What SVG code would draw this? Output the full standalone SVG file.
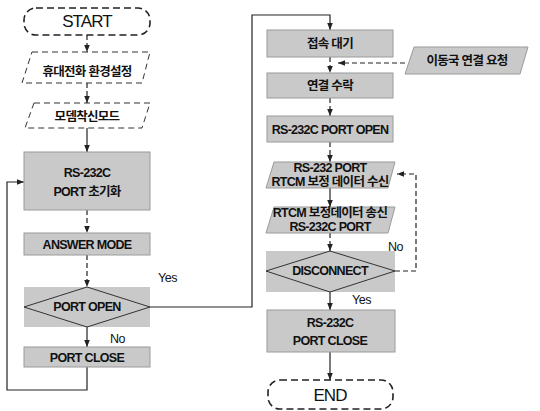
<svg xmlns="http://www.w3.org/2000/svg" width="540" height="411" viewBox="0 0 540 411">
<style>
.t{font-family:"Liberation Sans","Noto Sans CJK KR",sans-serif;font-size:12.5px;font-weight:bold;fill:#111;text-anchor:middle;letter-spacing:-0.7px}
.big{font-size:17px;font-weight:normal;letter-spacing:-0.9px}
.lab{font-family:"Liberation Sans",sans-serif;font-size:12.5px;fill:#111;letter-spacing:-0.5px}
.sh{fill:#c9c9c9;stroke:#9a9a9a;stroke-width:1}
.shn{fill:#c9c9c9;stroke:none}
.dia{fill:none;stroke:#333;stroke-width:1}
.term{fill:#fff;stroke:#222;stroke-width:1.6;stroke-dasharray:7 4}
.io{fill:#fff;stroke:#333;stroke-width:1;stroke-dasharray:6 4}
.c{fill:none;stroke:#222;stroke-width:1.2}
.cd{fill:none;stroke:#222;stroke-width:1.2;stroke-dasharray:5 3}
</style>
<defs>
<marker id="a" viewBox="0 0 10 10" refX="10" refY="5" markerWidth="7" markerHeight="7" orient="auto-start-reverse" markerUnits="userSpaceOnUse">
<path d="M0,1 L10,5 L0,9 Z" fill="#222"/>
</marker>
</defs>
<g id="connectors">
<path class="cd" d="M87,35 V52" marker-end="url(#a)"/>
<path class="cd" d="M87,83 V103" marker-end="url(#a)"/>
<path class="c" d="M87,128 V152" marker-end="url(#a)"/>
<path class="cd" d="M87,210 V233" marker-end="url(#a)"/>
<path class="cd" d="M87,255 V287" marker-end="url(#a)"/>
<path class="c" d="M87,327 V347" marker-end="url(#a)"/>
<path class="c" d="M87,367 V390 H7 V182 H24" marker-end="url(#a)"/>
<path class="c" d="M150,307 H252 V15 H330 V30" marker-end="url(#a)"/>
<path class="cd" d="M330,57 V73" marker-end="url(#a)"/>
<path class="cd" d="M405,63 H338" marker-end="url(#a)"/>
<path class="cd" d="M330,98 V116" marker-end="url(#a)"/>
<path class="cd" d="M330,142 V162" marker-end="url(#a)"/>
<path class="c" d="M330,188 V207" marker-end="url(#a)"/>
<path class="cd" d="M330,233 V251" marker-end="url(#a)"/>
<path class="cd" d="M395,271 H416 V174 H397" marker-end="url(#a)"/>
<path class="c" d="M330,292 V310" marker-end="url(#a)"/>
<path class="c" d="M330,352 V380" marker-end="url(#a)"/>
</g>
<g id="start">
<rect class="term" x="24" y="8" width="126" height="27" rx="12"/>
<text class="t big" x="87" y="27">START</text>
</g>
<g id="env">
<polygon class="io" points="32,52 150,52 142,83 22,83"/>
<text class="t" x="87" y="76">휴대전화 환경설정</text>
</g>
<g id="modem">
<polygon class="io" points="34,103 150,103 142,128 25,128"/>
<text class="t" x="87" y="121">모뎀착신모드</text>
</g>
<g id="init">
<rect class="sh" x="24" y="152" width="126" height="58"/>
<text class="t" x="87" y="177">RS-232C</text>
<text class="t" x="87" y="196">PORT 초기화</text>
</g>
<g id="answer">
<rect class="sh" x="24" y="233" width="126" height="22"/>
<text class="t" x="87" y="249">ANSWER MODE</text>
</g>
<g id="portopen">
<rect class="shn" x="24" y="287" width="126" height="40"/>
<polygon class="dia" points="87,287 150,307 87,327 24,307"/>
<text class="t" x="87" y="311">PORT OPEN</text>
</g>
<text class="lab" x="158" y="282">Yes</text>
<text class="lab" x="110" y="343">No</text>
<g id="portclose">
<rect class="sh" x="24" y="347" width="126" height="20"/>
<text class="t" x="87" y="362">PORT CLOSE</text>
</g>
<g id="wait">
<rect class="sh" x="267" y="30" width="126" height="27"/>
<text class="t" x="330" y="48">접속 대기</text>
</g>
<g id="request">
<polygon class="sh" points="414,47 528,47 520,74 405,74"/>
<text class="t" x="467" y="65">이동국 연결 요청</text>
</g>
<g id="accept">
<rect class="sh" x="267" y="73" width="126" height="25"/>
<text class="t" x="330" y="90">연결 수락</text>
</g>
<g id="rsopen">
<rect class="sh" x="267" y="116" width="126" height="26"/>
<text class="t" x="330" y="134">RS-232C PORT OPEN</text>
</g>
<g id="recv">
<polygon class="sh" points="274,162 395,162 388,188 266,188"/>
<text class="t" x="330" y="172">RS-232 PORT</text>
<text class="t" x="330" y="186">RTCM 보정 데이터 수신</text>
</g>
<g id="send">
<polygon class="sh" points="274,207 395,207 388,233 266,233"/>
<text class="t" x="330" y="217">RTCM 보정데이터 송신</text>
<text class="t" x="330" y="231">RS-232C PORT</text>
</g>
<text class="lab" x="388" y="251">No</text>
<g id="disconnect">
<rect class="shn" x="266" y="251" width="129" height="41"/>
<polygon class="dia" points="330,251 395,271 330,292 266,271"/>
<text class="t" x="330" y="275">DISCONNECT</text>
</g>
<text class="lab" x="352" y="304">Yes</text>
<g id="rsclose">
<rect class="sh" x="267" y="310" width="128" height="42"/>
<text class="t" x="330" y="327">RS-232C</text>
<text class="t" x="330" y="345">PORT CLOSE</text>
</g>
<g id="end">
<rect class="term" x="268" y="380" width="125" height="29" rx="12"/>
<text class="t big" x="330" y="401">END</text>
</g>
</svg>
